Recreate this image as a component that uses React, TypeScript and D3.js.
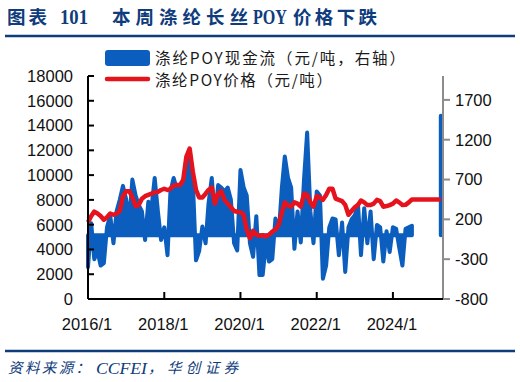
import React from 'react';
import * as d3 from 'd3';

// Monthly observations, Jan 2016 .. Jul 2024, then one final reading in Apr 2025
const firstMonth = new Date(2016, 0, 1);
const lastMonthExclusive = new Date(2024, 7, 1);
const finalDate = new Date(2025, 3, 4);

// 涤纶POY价格 (元/吨) – left axis
const price: number[] = [
  6200, 6700, 7050, 6900, 6700, 6400, 6600, 6900, 6800, 6900, 7100, 8300,
  8700, 8700, 8200, 7500, 7600, 8100, 8300, 8400, 8500, 8600, 8650, 8800,
  8900, 8800, 8900, 9150, 9200, 9200, 9600, 11500, 12150, 10300, 8800, 8200,
  8200, 8500, 8800, 9000, 7700, 8500, 8700, 8000, 7700, 7400, 7100, 7040,
  7000, 6800, 5600, 4900, 5500, 5200, 5100, 5150, 5050, 5200, 5430, 5600,
  6000, 7000, 7800, 7550, 7450, 7800, 7700, 7450, 8500, 8400, 7800, 7450,
  8300, 8200, 8000, 8400, 8900, 8900, 8100, 8000, 7900, 7600, 6800, 7100,
  7400, 7600, 7950, 7800, 7580, 7580, 7700, 8000, 7900, 7450, 7500, 7580,
  7700, 7950, 7800, 7580, 7600, 7800, 8030,
];
const priceFinal = 8030;

// 涤纶POY现金流 (元/吨) – right axis
const cash: number[] = [
  -400, 150, -300, -200, -380, -350, 100, 250, -100, 300, 450, 620,
  450, 200, 700, 500, 380, 300, -60, 420, 350, 720, 300, -60,
  100, -250, 550, 720, 580, 600, 600, 950, 1050, 700, -315, -200,
  110, -100, 400, 720, 200, 630, 600, 550, 600, 450, -100, -190,
  820, 600, 500, -100, -270, 240, -500, -500, -100, -330, -300, 210,
  0, 600, 990, 720, 600, -170, 300, -90, 700, 1290, 300, -100,
  550, 500, -545, -380, 100, 210, 200, -250, 160, -460, 100, 200,
  250, 380, -250, 340, -100, 300, -300, 130, 100, -330, 50, -210,
  100, 80, -150, -380, 80, 100, 120,
];
const cashFinal = 1500;

const leftTicks: number[] = [0, 2000, 4000, 6000, 8000, 10000, 12000, 14000, 16000, 18000];
const rightTicks: number[] = [-800, -300, 200, 700, 1200, 1700];
const xTickDates: Date[] = [
  new Date(2016, 0, 1), new Date(2018, 0, 1), new Date(2020, 0, 1),
  new Date(2022, 0, 1), new Date(2024, 0, 1),
];
const xTickLabels: string[] = ['2016/1', '2018/1', '2020/1', '2022/1', '2024/1'];

const BLUE = '#0B5EBE';
const RED = '#E5131E';
const NAVY = '#0F3C7C';
const NUM_FONT = '"Liberation Sans", Arial, sans-serif';
const CJK_FONT = '"Noto Sans CJK SC", "Liberation Sans", sans-serif';
const SERIF = '"Liberation Serif", "Times New Roman", serif';

export default function App() {
  const months = d3.timeMonth.range(firstMonth, lastMonthExclusive);
  const x = d3.scaleTime().domain([new Date(2016, 0, 1), new Date(2025, 3, 25)]).range([88, 443]);
  const yL = d3.scaleLinear().domain([0, 18000]).range([299, 76]);
  const yR = d3.scaleLinear().domain([-800, 2000]).range([299, 76]);

  const cashMain: [Date, number][] = months.map((d, i) => [d, cash[i]]);
  const cashLast: [Date, number][] = [[finalDate, cashFinal]];
  const priceAll: [Date, number][] = months.map((d, i) => [d, price[i]] as [Date, number]).concat([[finalDate, priceFinal]]);

  const area = d3.area<[Date, number]>()
    .x(d => x(d[0]))
    .y0(yR(0))
    .y1(d => yR(d[1]));
  const line = d3.line<[Date, number]>()
    .x(d => x(d[0]))
    .y(d => yL(d[1]));

  const plotTop = 76, plotBottom = 299, plotLeft = 88, plotRight = 443;

  return (
    <svg width={520} height={382} style={{ position: 'absolute', left: 0, top: 0 }}>
      <rect width={520} height={382} fill="#fff" />
      {/* Title */}
      <g fill={NAVY} fontWeight="bold" fontSize={18.5}>
        <text x={7} y={24} fontFamily={CJK_FONT} textLength={40} lengthAdjust="spacing">图表</text>
        <text x={60} y={24} fontFamily={SERIF} fontSize={20} textLength={28} lengthAdjust="spacingAndGlyphs">101</text>
        <text x={112} y={24} fontFamily={CJK_FONT} textLength={136} lengthAdjust="spacing">本周涤纶长丝</text>
        <text x={253} y={24} fontFamily={SERIF} fontSize={20} textLength={34} lengthAdjust="spacingAndGlyphs">POY</text>
        <text x={293} y={24} fontFamily={CJK_FONT} textLength={84} lengthAdjust="spacing">价格下跌</text>
      </g>
      <line x1={5} x2={515} y1={36} y2={36} stroke={NAVY} strokeWidth={2.5} />

      {/* Series */}
      <path d={area(cashMain) || ''} fill={BLUE} stroke={BLUE} strokeWidth={4} strokeLinejoin="round" />
      <path d={area(cashLast) || ''} fill={BLUE} stroke={BLUE} strokeWidth={4} strokeLinejoin="round" strokeLinecap="round" />
      <path d={line(priceAll) || ''} fill="none" stroke={RED} strokeWidth={4.5} strokeLinejoin="round" />

      {/* Left axis */}
      <line x1={plotLeft} x2={plotLeft} y1={plotTop} y2={plotBottom} stroke="#000" strokeWidth={2} />
      {leftTicks.map(t => (
        <g key={'l' + t}>
          <line x1={plotLeft} x2={plotLeft + 6} y1={yL(t)} y2={yL(t)} stroke="#000" strokeWidth={2} />
          <text x={73} y={yL(t)} dy="0.36em" textAnchor="end" fontFamily={NUM_FONT} fontSize={16.5} fill="#111">{t}</text>
        </g>
      ))}

      {/* Right axis */}
      <line x1={plotRight} x2={plotRight} y1={plotTop} y2={plotBottom} stroke="#8C8C8C" strokeWidth={2} />
      {rightTicks.map(t => (
        <g key={'r' + t}>
          <line x1={plotRight} x2={plotRight + 7} y1={yR(t)} y2={yR(t)} stroke="#8C8C8C" strokeWidth={2} />
          <text x={455} y={yR(t)} dy="0.36em" textAnchor="start" fontFamily={NUM_FONT} fontSize={16.5} fill="#111">{t}</text>
        </g>
      ))}

      {/* X axis */}
      <line x1={plotLeft} x2={plotRight} y1={plotBottom} y2={plotBottom} stroke="#000" strokeWidth={2} />
      {xTickDates.map((d, i) => (
        <g key={'x' + i}>
          <line x1={x(d)} x2={x(d)} y1={plotBottom} y2={plotBottom - 7} stroke="#000" strokeWidth={2} />
          <text x={x(d) - 1} y={324} dy="0.36em" textAnchor="middle" fontFamily={NUM_FONT} fontSize={16.5} fill="#111">{xTickLabels[i]}</text>
        </g>
      ))}

      {/* Legend */}
      <rect x={105} y={50} width={45} height={16} rx={3} fill={BLUE} />
      <text x={155} y={58} dy="0.36em" fontFamily={CJK_FONT} fontSize={15.5} fill="#1a1a1a" textLength={250} lengthAdjust="spacing">涤纶POY现金流（元/吨，右轴）</text>
      <line x1={107} x2={148} y1={79} y2={79} stroke={RED} strokeWidth={4.5} strokeLinecap="round" />
      <text x={155} y={80} dy="0.36em" fontFamily={CJK_FONT} fontSize={15.5} fill="#1a1a1a" textLength={177} lengthAdjust="spacing">涤纶POY价格（元/吨）</text>

      {/* Footer */}
      <line x1={5} x2={515} y1={351} y2={351} stroke={NAVY} strokeWidth={2.5} />
      <g fill={NAVY} fontStyle="italic" fontSize={14.5}>
        <text x={8} y={368} dy="0.36em" fontFamily={CJK_FONT} textLength={82} lengthAdjust="spacing">资料来源：</text>
        <text x={96} y={368} dy="0.36em" fontFamily={SERIF} fontSize={16} textLength={51} lengthAdjust="spacingAndGlyphs">CCFEI</text>
        <text x={148} y={368} dy="0.36em" fontFamily={CJK_FONT} textLength={90} lengthAdjust="spacing">，华创证券</text>
      </g>
    </svg>
  );
}
